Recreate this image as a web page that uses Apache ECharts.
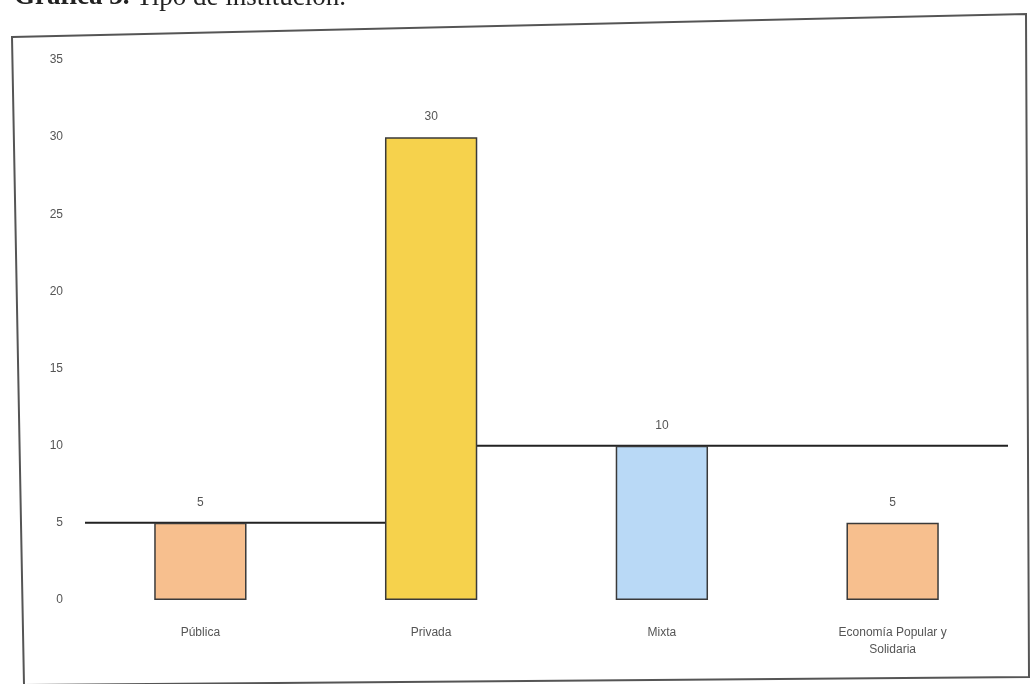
<!DOCTYPE html>
<html>
<head>
<meta charset="utf-8">
<script src="https://cdn.jsdelivr.net/npm/echarts@6/dist/echarts.min.js"></script>
<style>
html,body{margin:0;padding:0;background:#fff;}
#chart{width:1030px;height:684px;}
</style>
</head>
<body>
<div id="chart"></div>
<script>
const categories = ['Pública', 'Privada', 'Mixta', 'Economía Popular y\nSolidaria'];
const values = [5, 30, 10, 5];
const barColors = ['#F7BF8E', '#F6D24C', '#B9D9F6', '#F7BF8E'];
const yTicks = [0, 5, 10, 15, 20, 25, 30, 35];
// reference line drawn in the original: x positions in category units (0..4), y values
const refLine = [[0, 5], [1.5, 5], [1.5, 10], [4, 10]];

const chart = echarts.init(document.getElementById('chart'));
chart.setOption({
  backgroundColor: '#fff',
  animation: false,
  graphic: [
    {
      type: 'polygon', z: 0,
      shape: { points: [[12, 37], [1026, 14], [1029, 677], [24, 685]] },
      style: { fill: 'none', stroke: '#555', lineWidth: 2 }
    },
    {
      type: 'text', left: 14, top: -16, z: 5,
      style: {
        text: '{b|Gráfica 3.} Tipo de institución.',
        font: '27px "Liberation Serif", serif',
        fill: '#222',
        rich: { b: { fontWeight: 'bold', fontSize: 27, fontFamily: 'Liberation Serif', fill: '#222' } }
      }
    }
  ],
  grid: { left: 85, right: 22, top: 60, bottom: 84 },
  xAxis: [
    {
      type: 'category', data: categories,
      axisLine: { show: false }, axisTick: { show: false },
      axisLabel: { color: '#555', fontSize: 12, fontFamily: 'Liberation Sans', margin: 24, lineHeight: 17 }
    },
    { type: 'value', min: 0, max: 4, show: false }
  ],
  yAxis: {
    type: 'value', min: 0, max: 35, interval: 5,
    axisLine: { show: false }, axisTick: { show: false }, splitLine: { show: false },
    axisLabel: { color: '#555', fontSize: 12, fontFamily: 'Liberation Sans', margin: 22 }
  },
  series: [
    {
      type: 'line', xAxisIndex: 1, data: refLine, z: 1,
      symbol: 'none', lineStyle: { color: '#222', width: 2 }
    },
    {
      type: 'bar', xAxisIndex: 0, z: 3,
      barWidth: '40%',
      data: values.map((v, i) => ({ value: v, itemStyle: { color: barColors[i] } })),
      itemStyle: { borderColor: '#3a3a3a', borderWidth: 1.5 },
      label: { show: true, position: 'top', distance: 14, color: '#555', fontSize: 12, fontFamily: 'Liberation Sans' }
    }
  ]
});
</script>
</body>
</html>
